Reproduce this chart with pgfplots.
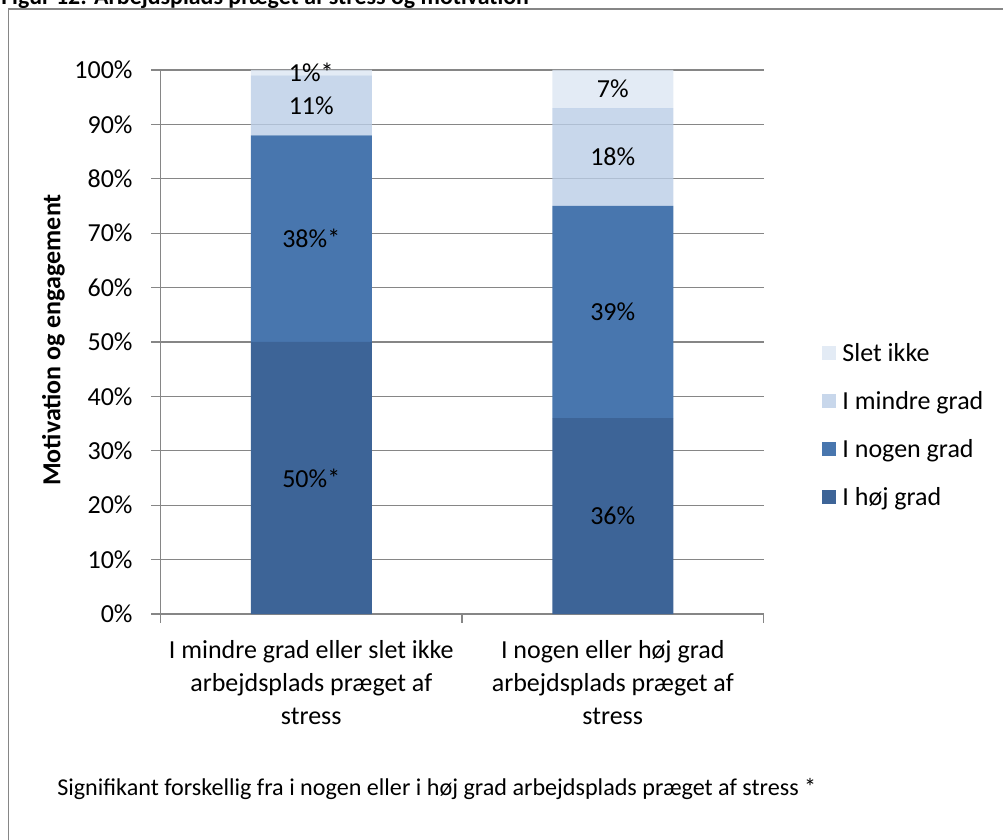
\documentclass[border=0pt]{standalone}
\usepackage{pgfplots}
\usepackage{pgfplotstable}
\pgfplotsset{compat=1.18}
\usepackage{fontspec}
\setmainfont{Carlito}

\definecolor{cHoej}{RGB}{61,100,151}
\definecolor{cNogen}{RGB}{72,118,174}
\definecolor{cMindre}{RGB}{186,205,230}
\definecolor{cSlet}{RGB}{220,230,242}
\definecolor{cGrid}{RGB}{134,134,134}

\newcommand\chartfont{\fontsize{19.5}{24.4}\selectfont}

% Andele i procent for hver gruppe; * = signifikant forskel
\pgfplotstableread{
x hoej lhoej nogen lnogen mindre lmindre slet lslet
0 50   50\%*  38   38\%*   11    11\%    1    1\%*
1 36   36\%   39   39\%    18    18\%    7    7\%
}\motivation

% udfyldt segment med etiket midt i segmentet
\pgfplotsset{
  segment/.style={
    fill=#1, draw=none,
    nodes near coords,
    point meta=explicit symbolic,
    every node near coord/.append style={anchor=center, text=black,
      font=\chartfont},
  },
}

\begin{document}
\begin{tikzpicture}[x=0.75pt,y=0.75pt]
\useasboundingbox (0,0) rectangle (1003,839);
\clip (0,0) rectangle (1003,839);

% ramme og titel
\draw[cGrid, line width=1.1pt] (8.5,-40) rectangle (1040,830);
\node[anchor=base west, inner sep=0pt, font=\fontsize{17.9}{20}\selectfont\bfseries]
  at (1,834.5) {Figur 12: Arbejdsplads præget af stress og motivation};

\begin{axis}[
  at={(120.375pt,168.75pt)}, anchor=south west,
  scale only axis, width=452.25pt, height=408pt,
  ybar stacked, bar width=90.75pt,
  xmin=-0.5, xmax=1.5, ymin=0, ymax=100,
  axis x line*=bottom, axis y line*=left,
  axis line style={cGrid, line width=0.9pt},
  tick style={cGrid, line width=0.9pt},
  tick align=outside, major tick length=6.75pt,
  xtick={-0.5,0.5,1.5}, xticklabels={},
  extra x ticks={0,1},
  extra x tick labels={{I mindre grad eller slet ikke\\arbejdsplads præget af\\stress},
                       {I nogen eller høj grad\\arbejdsplads præget af\\stress}},
  extra x tick style={major tick length=0pt,
    xticklabel style={align=center, font=\chartfont, inner sep=0pt, anchor=north, yshift=-20pt}},
  ytick={0,10,...,100},
  yticklabel={\pgfmathprintnumber[assume math mode=true]{\tick}\%},
  yticklabel style={font=\chartfont, inner sep=0pt, anchor=east, xshift=-14pt},
  ymajorgrids, grid style={cGrid, line width=0.9pt},
  ylabel={Motivation og engagement},
  every axis y label/.style={at={(axis description cs:-0.1774,0.5037)},
    rotate=90, anchor=center, font=\chartfont\bfseries},
  legend style={at={(axis description cs:1.0962,0.4994)}, anchor=north west,
    draw=none, fill=none, inner sep=0pt, font=\chartfont,
    nodes={inner sep=0pt, text height=14pt, text depth=5pt, anchor=base west},
    /tikz/every odd column/.append style={column sep=5pt},
    row sep=17.15pt},
  legend cell align=left,
  reverse legend,
  legend image code/.code={\fill[#1] (0pt,1.3pt) rectangle (10.5pt,11.8pt);},
]
\addplot[segment=cHoej]   table[x=x, y=hoej,   meta=lhoej]   {\motivation};
\addplot[segment=cNogen]  table[x=x, y=nogen,  meta=lnogen]  {\motivation};
\addplot[segment=cMindre, fill opacity=0.8, text opacity=1]
  table[x=x, y=mindre, meta=lmindre] {\motivation};
\addplot[segment=cSlet, fill opacity=0.8, text opacity=1]
  table[x=x, y=slet,   meta=lslet]   {\motivation};
\legend{I høj grad, I nogen grad, I mindre grad, Slet ikke}
\end{axis}

\node[anchor=base west, inner sep=0pt, font=\fontsize{18.1}{21}\selectfont]
  at (57,44) {Signifikant forskellig fra i nogen eller i høj grad arbejdsplads præget af stress *};
\end{tikzpicture}
\end{document}
